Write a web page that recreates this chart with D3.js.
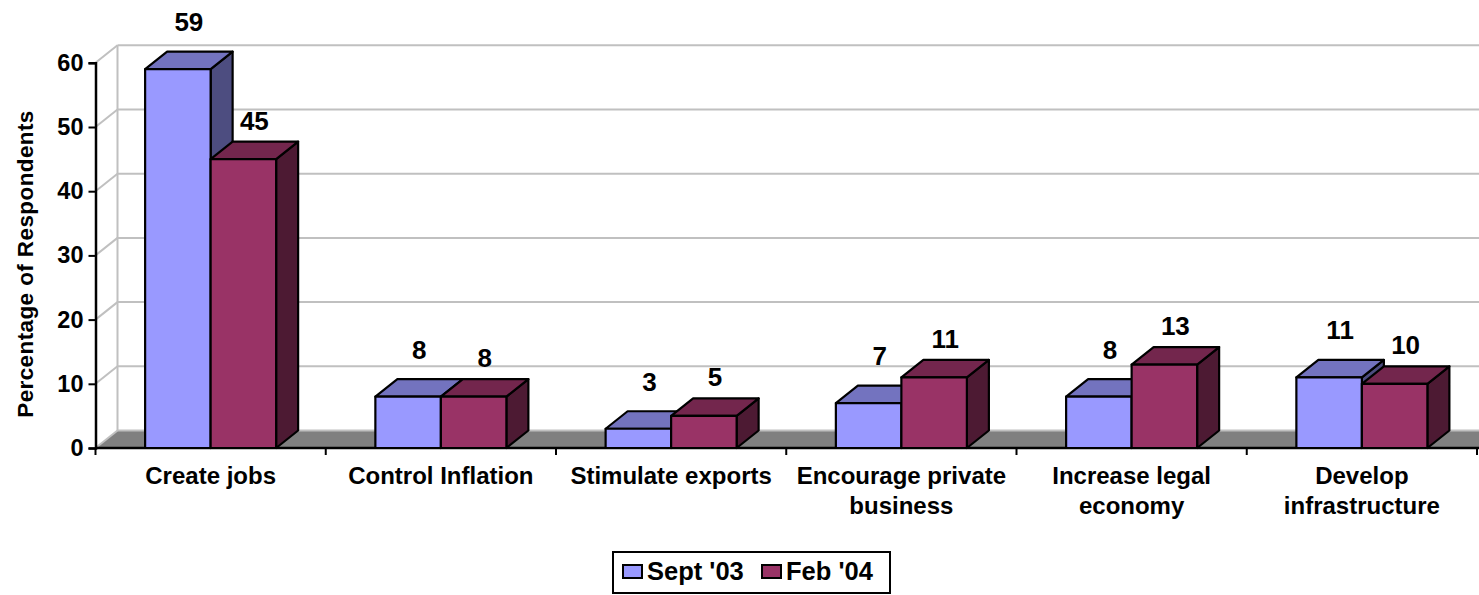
<!DOCTYPE html>
<html>
<head>
<meta charset="utf-8">
<script src="https://cdn.jsdelivr.net/npm/d3@7/dist/d3.min.js"></script>
<style>
  html, body { margin: 0; padding: 0; background: #fff; }
  svg { display: block; }
  text { font-family: "Liberation Sans", Arial, sans-serif; font-weight: bold; fill: #000; }
</style>
</head>
<body>
<svg id="chart" width="1479" height="595"></svg>
<script>
// Survey results: which economic priority respondents named first
const categories = [
  "Create jobs",
  "Control Inflation",
  "Stimulate exports",
  "Encourage private business",
  "Increase legal economy",
  "Develop infrastructure"
];
// Wrapped category labels as they appear under the axis
const categoryLines = [
  ["Create jobs"],
  ["Control Inflation"],
  ["Stimulate exports"],
  ["Encourage private", "business"],
  ["Increase legal", "economy"],
  ["Develop", "infrastructure"]
];
const seriesNames = ["Sept '03", "Feb '04"];
const sept03 = [59, 8, 3, 7, 8, 11];
const feb04 = [45, 8, 5, 11, 13, 10];
const yTicks = [0, 10, 20, 30, 40, 50, 60];
const yTitle = "Percentage of Respondents";

// Face colours: front, top, side for each series
const palette = [
  { front: "#9999ff", top: "#7373bf", side: "#4d4d80" },
  { front: "#993366", top: "#73264d", side: "#4d1a33" }
];

const W = 1479, H = 595;
const svg = d3.select("#chart");

// 3-D projection offsets for depth
const DX = 22, DY = 17.5;

const plotLeft = 95.5, plotRight = 1477, yZero = 448, yTop = 62.8;

const y = d3.scaleLinear().domain([0, 60]).range([yZero, yTop]);
const x0 = d3.scaleBand().domain(categories).range([plotLeft, plotRight]).padding(0);
const bw = x0.bandwidth();
const x1 = d3.scaleBand().domain(seriesNames).range([bw * 0.2155, bw * 0.7845]).padding(0);

const grid = "#c0c0c0";

// Floor
svg.append("path")
  .attr("d", `M${plotLeft},${yZero} L${W + 5},${yZero} L${W + 5},${yZero - DY} L${plotLeft + DX},${yZero - DY} Z`)
  .attr("fill", "#808080");

// Back wall gridlines and the left wall diagonals
const gridG = svg.append("g");
yTicks.forEach(t => {
  const yy = y(t);
  gridG.append("line")
    .attr("x1", plotLeft + DX).attr("x2", W + 5)
    .attr("y1", yy - DY).attr("y2", yy - DY)
    .attr("stroke", grid).attr("stroke-width", 2);
  gridG.append("line")
    .attr("x1", plotLeft).attr("x2", plotLeft + DX)
    .attr("y1", yy).attr("y2", yy - DY)
    .attr("stroke", grid).attr("stroke-width", 2);
});
gridG.append("line")
  .attr("x1", plotLeft + DX).attr("x2", plotLeft + DX)
  .attr("y1", y(0) - DY).attr("y2", y(60) - DY)
  .attr("stroke", grid).attr("stroke-width", 2);

// Y axis
const yAxis = d3.axisLeft(y).tickValues(yTicks).tickSize(7).tickPadding(5).tickFormat(d3.format("d"));
const yG = svg.append("g").attr("transform", `translate(${plotLeft},0)`).call(yAxis);
yG.select(".domain").attr("stroke", "#000").attr("stroke-width", 2.5);
yG.selectAll(".tick line").attr("stroke", "#000").attr("stroke-width", 2);
yG.selectAll(".tick text")
  .attr("font-size", 23.5)
  .attr("font-family", "'Liberation Sans', Arial, sans-serif").attr("font-weight", "bold")
  .attr("fill", "#000");

// X axis line with ticks at category boundaries
svg.append("line")
  .attr("x1", plotLeft).attr("x2", W + 5)
  .attr("y1", yZero).attr("y2", yZero)
  .attr("stroke", "#000").attr("stroke-width", 2.5);
const boundaries = categories.map(c => x0(c) + bw).concat([plotLeft]);
svg.append("g").selectAll("line").data(boundaries).join("line")
  .attr("x1", d => d).attr("x2", d => d)
  .attr("y1", yZero).attr("y2", yZero + 7)
  .attr("stroke", "#000").attr("stroke-width", 2);

// Bars as 3-D columns: front, top and side faces
const seriesValues = [sept03, feb04];
const labelLift = [47, 38.5];
const barsG = svg.append("g");
categories.forEach((cat, ci) => {
  seriesNames.forEach((s, si) => {
    const v = seriesValues[si][ci];
    const xl = x0(cat) + x1(s);
    const xr = xl + x1.bandwidth();
    const yv = y(v);
    const col = palette[si];
    const g = barsG.append("g")
      .attr("stroke", "#000").attr("stroke-width", 2.2).attr("stroke-linejoin", "round");
    g.append("path")
      .attr("d", `M${xr},${yv} L${xr + DX},${yv - DY} L${xr + DX},${yZero - DY} L${xr},${yZero} Z`)
      .attr("fill", col.side);
    g.append("path")
      .attr("d", `M${xl},${yv} L${xl + DX},${yv - DY} L${xr + DX},${yv - DY} L${xr},${yv} Z`)
      .attr("fill", col.top);
    g.append("rect")
      .attr("x", xl).attr("y", yv)
      .attr("width", xr - xl).attr("height", yZero - yv)
      .attr("fill", col.front);
  });
});

// Value labels
categories.forEach((cat, ci) => {
  seriesNames.forEach((s, si) => {
    const v = seriesValues[si][ci];
    const cx = x0(cat) + x1(s) + x1.bandwidth() / 2 + DX / 2;
    svg.append("text")
      .attr("x", cx).attr("y", y(v) - labelLift[si])
      .attr("text-anchor", "middle").attr("dominant-baseline", "central")
      .attr("font-size", 26)
      .text(v);
  });
});

// Category labels
categories.forEach((cat, ci) => {
  const t = svg.append("text")
    .attr("x", x0(cat) + bw / 2)
    .attr("y", 484)
    .attr("text-anchor", "middle")
    .attr("font-size", 24);
  categoryLines[ci].forEach((line, li) => {
    t.append("tspan").attr("x", x0(cat) + bw / 2).attr("dy", li === 0 ? 0 : 30).text(line);
  });
});

// Y axis title
svg.append("text")
  .attr("transform", `translate(33,264) rotate(-90)`)
  .attr("text-anchor", "middle")
  .attr("font-size", 22.5).attr("letter-spacing", 0.4)
  .text(yTitle);

// Legend
const lg = svg.append("g");
lg.append("rect")
  .attr("x", 613).attr("y", 552).attr("width", 277).attr("height", 41)
  .attr("fill", "#fff").attr("stroke", "#000").attr("stroke-width", 2);
seriesNames.forEach((s, i) => {
  const ix = 623 + i * 139;
  lg.append("rect")
    .attr("x", ix).attr("y", 565).attr("width", 19).attr("height", 13)
    .attr("fill", palette[i].front).attr("stroke", "#000").attr("stroke-width", 2);
  lg.append("text")
    .attr("x", ix + 24).attr("y", 580)
    .attr("font-size", 25.5)
    .text(s);
});
</script>
</body>
</html>
